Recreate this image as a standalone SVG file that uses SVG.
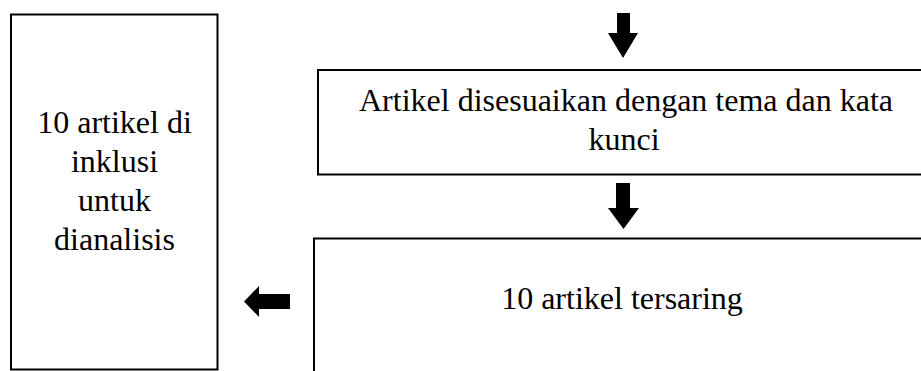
<svg xmlns="http://www.w3.org/2000/svg" width="921" height="371" viewBox="0 0 921 371">
<style>
.box{fill:#fff;stroke:#000;stroke-width:2}
.t{font-family:"Liberation Serif","Times New Roman",serif;font-size:32px;fill:#000;text-anchor:middle}
.arr{fill:#000;stroke:none}
</style>
<rect width="921" height="371" fill="#fff"/>
<g id="node-inklusi">
<rect class="box" x="11" y="14.5" width="206.5" height="355"/>
<text class="t" x="114.5" y="133">10 artikel di</text>
<text class="t" x="114.5" y="172">inklusi</text>
<text class="t" x="114.5" y="211">untuk</text>
<text class="t" x="114.5" y="250">dianalisis</text>
</g>
<g id="node-disesuaikan">
<rect class="box" x="318" y="70" width="620" height="104.5"/>
<text class="t" x="626" y="111">Artikel disesuaikan dengan tema dan kata</text>
<text class="t" x="624" y="150">kunci</text>
</g>
<g id="node-tersaring">
<rect class="box" x="314" y="238.5" width="620" height="150"/>
<text class="t" x="622" y="309">10 artikel tersaring</text>
</g>
<g id="connectors">
<polygon class="arr" points="617,13 630,13 630,33 638,33 623,58 608,33 617,33"/>
<polygon class="arr" points="616,183 630,183 630,208 639,208 623.5,229 608,208 616,208"/>
<polygon class="arr" points="290,294 290,309 259,309 259,317 244,301.5 259,286 259,294"/>
</g>
</svg>
